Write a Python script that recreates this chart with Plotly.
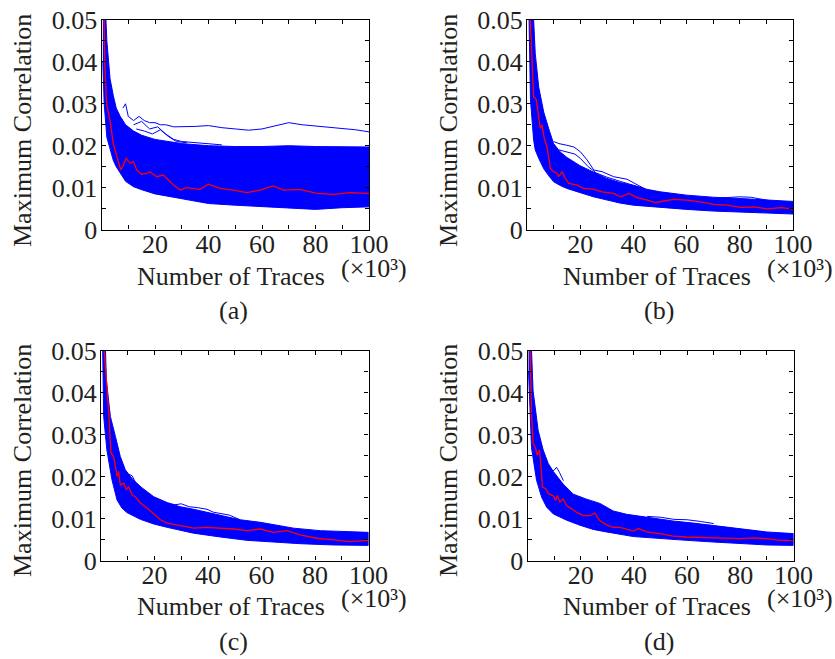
import plotly.graph_objects as go

# ---------------- data ----------------
x_tick_vals = [10, 20, 30, 40, 50, 60, 70, 80, 90, 100]
x_tick_text = ["", "20", "", "40", "", "60", "", "80", "", "100"]
y_tick_vals = [0, 0.005, 0.01, 0.015, 0.02, 0.025, 0.03, 0.035, 0.04, 0.045, 0.05]
y_tick_text = ["0", "", "0.01", "", "0.02", "", "0.03", "", "0.04", "", "0.05"]
panel_labels = ["(a)", "(b)", "(c)", "(d)"]

# Panel (a): envelope of the wrong-key band, outlier wrong keys, correct key
a_hi_x = [0.5, 1, 2, 3.2, 4.4, 5.5, 7, 9, 12, 15, 20, 25, 30, 40, 50, 60, 70, 80, 90, 100]
a_hi_y = [0.080, 0.060, 0.045, 0.036, 0.032, 0.029, 0.027, 0.025, 0.0235, 0.0225, 0.0215, 0.021,
          0.0205, 0.0200, 0.0198, 0.0198, 0.0200, 0.0198, 0.0198, 0.0197]
a_lo_x = [0.5, 1, 2, 3.2, 4.4, 5.5, 7, 9, 12, 15, 20, 25, 30, 40, 50, 60, 70, 80, 90, 100]
a_lo_y = [0.040, 0.030, 0.022, 0.019, 0.0165, 0.015, 0.0134, 0.0115, 0.0102, 0.0095, 0.0085, 0.0080,
          0.0073, 0.0062, 0.0058, 0.0054, 0.0051, 0.0048, 0.0052, 0.0054]
a_out1_x = [8, 9, 10, 12, 14, 16, 18, 20, 22, 24, 27, 30, 35, 40, 45, 50, 55, 60, 65, 70, 75, 80, 85, 90, 95, 100]
a_out1_y = [0.029, 0.030, 0.027, 0.026, 0.027, 0.026, 0.0255, 0.0255, 0.025, 0.0250, 0.0245, 0.0245, 0.0246,
            0.0248, 0.0243, 0.0240, 0.0237, 0.0240, 0.0248, 0.0255, 0.0250, 0.0247, 0.0245, 0.0241, 0.0238, 0.0233]
a_out2_x = [12, 15, 18, 21, 24, 27, 30, 35, 40, 45]
a_out2_y = [0.025, 0.0258, 0.024, 0.0245, 0.0228, 0.0215, 0.021, 0.0207, 0.0205, 0.0202]
a_out3_x = [13, 16, 19, 22, 25, 28, 32]
a_out3_y = [0.024, 0.0235, 0.0228, 0.0238, 0.0222, 0.021, 0.0207]
a_red_x = [0.5, 1.2, 1.9, 3.2, 4.4, 6.3, 7.2, 8.2, 9.2, 10.7, 11.9, 13.2, 15.0, 16.9, 18.1, 20.6, 23.1,
           25.0, 26.9, 29.4, 31.8, 36.8, 40.0, 44.4, 49.3, 54.3, 59.3, 64.2, 68.0, 74.2, 80.4, 86.7, 92.9, 100]
a_red_y = [0.070, 0.040, 0.030, 0.026, 0.0205, 0.0158, 0.0142, 0.0154, 0.0170, 0.0158, 0.0162, 0.0142,
           0.0132, 0.0134, 0.0138, 0.0126, 0.0130, 0.0118, 0.0106, 0.0094, 0.0100, 0.0096, 0.0108, 0.0098,
           0.0094, 0.0088, 0.0094, 0.0104, 0.0094, 0.0096, 0.0086, 0.0084, 0.0088, 0.0086]

# Panel (b)
b_hi_x = [0.5, 1.3, 2.5, 3.1, 4.4, 6.3, 8.2, 10, 12.5, 15, 20, 25, 30, 35, 40, 45, 50, 60, 70, 80, 90, 100]
b_hi_y = [0.085, 0.065, 0.050, 0.042, 0.034, 0.028, 0.024, 0.0205, 0.0185, 0.0172, 0.0152, 0.0137, 0.0122,
          0.0112, 0.0105, 0.0096, 0.0090, 0.0082, 0.0077, 0.0074, 0.0070, 0.0067]
b_lo_x = [0.5, 1.3, 2.5, 3.1, 4.4, 6.3, 8.2, 10, 12.5, 15, 20, 25, 30, 35, 40, 45, 50, 60, 70, 80, 90, 100]
b_lo_y = [0.060, 0.031, 0.0213, 0.019, 0.017, 0.0145, 0.0128, 0.0114, 0.0105, 0.0098, 0.0088, 0.0078,
          0.0070, 0.0063, 0.0058, 0.0055, 0.0053, 0.0048, 0.0044, 0.0041, 0.0039, 0.0037]
b_out1_x = [10, 12, 15, 17.6, 20, 22.6, 25.1, 28.2, 32.6, 37.6, 40.2, 45.2, 48]
b_out1_y = [0.021, 0.0205, 0.0201, 0.0197, 0.0186, 0.0166, 0.0142, 0.0138, 0.0126, 0.0120, 0.0111, 0.0094, 0.0090]
b_out2_x = [12, 15, 18, 20, 23, 26, 30, 35, 40, 44]
b_out2_y = [0.019, 0.0185, 0.018, 0.017, 0.015, 0.0135, 0.0125, 0.0115, 0.0105, 0.0098]
b_out3_x = [72, 76, 80, 84, 88, 92]
b_out3_y = [0.0075, 0.0076, 0.0078, 0.0077, 0.0073, 0.0068]
b_red_x = [0.5, 1.9, 2.5, 3.5, 4.4, 5.0, 5.6, 6.5, 7.5, 8.8, 10, 11.3, 11.9, 13.2, 14.4, 15.7, 18.8, 21.3,
           25.1, 28.2, 32.6, 35.1, 38.3, 41.4, 45.2, 48.3, 51.4, 55.2, 60.2, 65.2, 70.3, 75.3, 80.3, 85.3,
           90.3, 95.4, 100]
b_red_y = [0.060, 0.039, 0.0317, 0.031, 0.0273, 0.0241, 0.025, 0.0217, 0.0197, 0.0146, 0.0138, 0.0134,
           0.0126, 0.0138, 0.0122, 0.011, 0.0106, 0.0098, 0.0096, 0.009, 0.0086, 0.0078, 0.0086, 0.0076,
           0.007, 0.0064, 0.0068, 0.0072, 0.007, 0.0066, 0.006, 0.0058, 0.0053, 0.0054, 0.0049, 0.0052, 0.0049]

# Panel (c)
c_hi_x = [0.4, 1, 2, 3.5, 5.4, 7.2, 9.1, 11.6, 14.7, 19.7, 24.7, 29.6, 34.6, 39.6, 44.6, 48.3, 52, 59.5,
          64.5, 72, 82, 92, 100]
c_hi_y = [0.085, 0.065, 0.043, 0.0343, 0.0295, 0.0248, 0.0216, 0.0195, 0.0176, 0.0152, 0.0138, 0.0128,
          0.0122, 0.0115, 0.0107, 0.0102, 0.0097, 0.0091, 0.0085, 0.0077, 0.0071, 0.0069, 0.0067]
c_lo_x = [0.4, 1, 2.2, 4.1, 6, 7.8, 9.7, 14.7, 19.7, 24.7, 34.6, 44.6, 54.5, 64.5, 74.5, 86.9, 100]
c_lo_y = [0.060, 0.0343, 0.0263, 0.0192, 0.0144, 0.0125, 0.0114, 0.0098, 0.0087, 0.0079, 0.0065, 0.0056,
          0.0048, 0.0044, 0.0040, 0.0037, 0.0036]
c_out1_x = [9, 10.5, 11.6, 13, 15]
c_out1_y = [0.020, 0.0205, 0.0202, 0.0185, 0.0175]
c_out2_x = [25, 28, 30, 33, 36, 39.6, 42, 45, 48, 52]
c_out2_y = [0.0135, 0.0133, 0.0135, 0.0128, 0.0126, 0.0122, 0.0115, 0.0112, 0.0108, 0.0097]
c_red_x = [0.5, 1.2, 2, 2.9, 3.7, 4.7, 5.4, 6.0, 6.6, 7.2, 8.5, 9.5, 10.3, 11.6, 12.8, 14.7, 17.2, 19.7,
           22.2, 24.7, 29.6, 34.6, 39.6, 44.6, 49.6, 54.5, 59.5, 64.5, 69.5, 74.5, 80.7, 86.9, 93.1, 100]
c_red_y = [0.065, 0.05, 0.043, 0.0351, 0.0256, 0.0248, 0.0224, 0.020, 0.0212, 0.018, 0.0184, 0.0168,
           0.0176, 0.0156, 0.0152, 0.0137, 0.0125, 0.011, 0.0097, 0.0089, 0.0083, 0.0077, 0.0079, 0.0077,
           0.0075, 0.0071, 0.0075, 0.0067, 0.0071, 0.0061, 0.0053, 0.0049, 0.0045, 0.0048]

# Panel (d)
d_hi_x = [0.4, 0.9, 2.1, 4, 5.9, 7.8, 9.7, 13.4, 17.2, 22.2, 27.2, 32.2, 37.3, 42.3, 47.3, 54.8, 62.4,
          69.9, 79.9, 89.9, 100]
d_hi_y = [0.085, 0.060, 0.0404, 0.031, 0.0263, 0.0231, 0.0212, 0.0182, 0.0158, 0.0146, 0.0136, 0.0118,
          0.0110, 0.0105, 0.0100, 0.0094, 0.0089, 0.0083, 0.0075, 0.0068, 0.0064]
d_lo_x = [0.4, 1.5, 3.4, 5.3, 7.2, 9.7, 14.7, 19.7, 24.7, 29.7, 39.8, 49.8, 59.8, 69.9, 79.9, 89.9, 100]
d_lo_y = [0.045, 0.0269, 0.0191, 0.0151, 0.0127, 0.0111, 0.0096, 0.0084, 0.0074, 0.0068, 0.0057, 0.0052,
          0.0048, 0.0044, 0.0040, 0.0037, 0.0036]
d_out1_x = [8.5, 10, 10.9, 12, 13.5]
d_out1_y = [0.021, 0.0215, 0.0222, 0.021, 0.019]
d_out2_x = [45, 50, 55, 60, 65, 70]
d_out2_y = [0.0105, 0.0103, 0.0098, 0.0097, 0.0093, 0.0088]
d_red_x = [0.5, 1.5, 2.1, 3.1, 3.6, 4.4, 4.9, 5.6, 6.9, 7.8, 9.7, 10.7, 11.2, 12.2, 13.4, 14.7, 16.6, 18.4,
           21, 23.5, 25.3, 27.2, 29.7, 32.2, 34.8, 37.3, 39.8, 41.7, 44.8, 49.8, 54.8, 59.8, 69.9, 74.9,
           79.9, 84.9, 89.9, 94.8, 100]
d_red_y = [0.065, 0.035, 0.0279, 0.0267, 0.0251, 0.0263, 0.0239, 0.0175, 0.0171, 0.0159, 0.0154, 0.0143,
           0.0155, 0.0139, 0.0147, 0.0131, 0.0123, 0.0115, 0.0107, 0.0107, 0.0113, 0.0095, 0.0085, 0.0079,
           0.0079, 0.0074, 0.007, 0.0076, 0.0068, 0.0064, 0.0058, 0.0056, 0.0054, 0.0054, 0.0052, 0.0054,
           0.0052, 0.0048, 0.0048]

panels = [
    dict(hi=(a_hi_x, a_hi_y), lo=(a_lo_x, a_lo_y),
         outs=[(a_out1_x, a_out1_y), (a_out2_x, a_out2_y), (a_out3_x, a_out3_y)], red=(a_red_x, a_red_y)),
    dict(hi=(b_hi_x, b_hi_y), lo=(b_lo_x, b_lo_y),
         outs=[(b_out1_x, b_out1_y), (b_out2_x, b_out2_y), (b_out3_x, b_out3_y)], red=(b_red_x, b_red_y)),
    dict(hi=(c_hi_x, c_hi_y), lo=(c_lo_x, c_lo_y),
         outs=[(c_out1_x, c_out1_y), (c_out2_x, c_out2_y)], red=(c_red_x, c_red_y)),
    dict(hi=(d_hi_x, d_hi_y), lo=(d_lo_x, d_lo_y),
         outs=[(d_out1_x, d_out1_y), (d_out2_x, d_out2_y)], red=(d_red_x, d_red_y)),
]

# ---------------- layout geometry (pixels) ----------------
W, H = 835, 659
BLUE = "#0000FF"
RED = "#FF0000"
TXT = "#231F20"
FONT = "Liberation Serif"

# plot-area boxes: (left, right, top, bottom) in pixels
boxes = [(101.5, 369.0, 20.0, 229.5), (527.0, 793.0, 20.0, 229.5),
         (101.0, 368.5, 350.5, 560.5), (527.5, 793.5, 350.5, 560.5)]
col_dx = [0, 426, 0, 426]
row_dy = [0, 0, 330, 330]

fig = go.Figure()
layout = dict(width=W, height=H, margin=dict(l=0, r=0, t=0, b=0, autoexpand=False),
              paper_bgcolor="white", plot_bgcolor="white", showlegend=False, annotations=[])

for i, p in enumerate(panels):
    n = "" if i == 0 else str(i + 1)
    xa, ya = "x" + n, "y" + n
    hx, hy = p["hi"]
    lx, ly = p["lo"]
    fig.add_trace(go.Scatter(x=list(hx) + list(lx)[::-1], y=list(hy) + list(ly)[::-1],
                             fill="toself", fillcolor=BLUE, mode="lines",
                             line=dict(color=BLUE, width=1), xaxis=xa, yaxis=ya, hoverinfo="skip"))
    for ox, oy in p["outs"]:
        fig.add_trace(go.Scatter(x=ox, y=oy, mode="lines", line=dict(color=BLUE, width=1),
                                 xaxis=xa, yaxis=ya, hoverinfo="skip"))
    rx, ry = p["red"]
    fig.add_trace(go.Scatter(x=rx, y=ry, mode="lines", line=dict(color=RED, width=1.3),
                             xaxis=xa, yaxis=ya, hoverinfo="skip"))

    l, r, t, b = boxes[i]
    common = dict(showline=True, linecolor="black", linewidth=1.3, mirror="ticks", ticks="inside",
                  ticklen=4, tickwidth=1, tickcolor="black", showgrid=False, zeroline=False,
                  automargin=False, tickfont=dict(family=FONT, size=26, color=TXT))
    layout["xaxis" + n] = dict(common, domain=[l / W, r / W], range=[0, 100], anchor=ya,
                               tickmode="array", tickvals=x_tick_vals, ticktext=x_tick_text,
                               ticklabelstandoff=-9)
    layout["yaxis" + n] = dict(common, domain=[1 - b / H, 1 - t / H], range=[0, 0.05], anchor=xa,
                               tickmode="array", tickvals=y_tick_vals, ticktext=y_tick_text,
                               ticklabelstandoff=-2)

    dx, dy = col_dx[i], row_dy[i]
    f = dict(family=FONT, size=26, color=TXT)
    layout["annotations"] += [
        dict(text="Maximum Correlation", x=(22 + dx) / W, y=1 - (131 + dy) / H, xref="paper", yref="paper",
             textangle=-90, showarrow=False, font=f, xanchor="center", yanchor="middle"),
        dict(text="Number of Traces", x=(231 + dx) / W, y=1 - (276 + dy) / H, xref="paper", yref="paper",
             showarrow=False, font=f, xanchor="center", yanchor="middle"),
        dict(text="(×10³)", x=(374 + dx) / W, y=1 - (268 + dy) / H, xref="paper", yref="paper",
             showarrow=False, font=f, xanchor="center", yanchor="middle"),
        dict(text=panel_labels[i], x=(233 + dx) / W, y=1 - (311 + dy) / H, xref="paper", yref="paper",
             showarrow=False, font=f, xanchor="center", yanchor="middle"),
    ]

fig.update_layout(**layout)
fig.write_html("out.html")
